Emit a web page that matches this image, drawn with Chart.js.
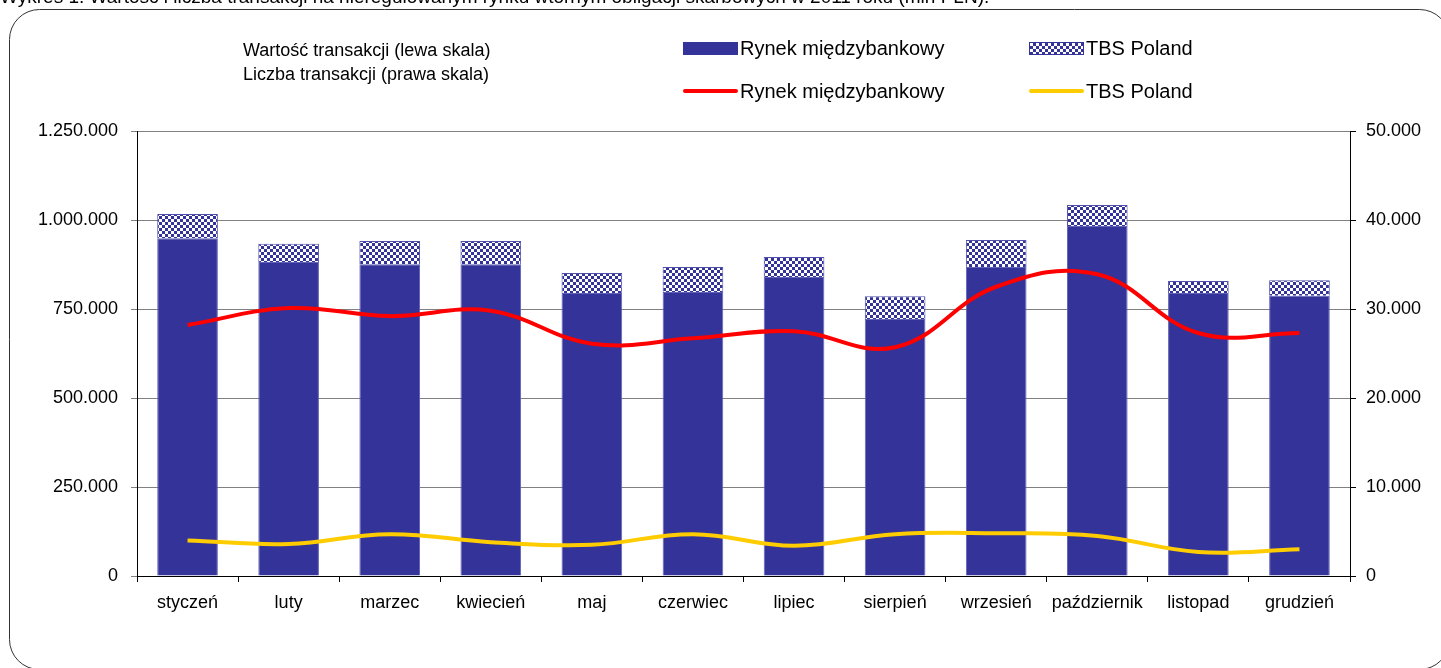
<!DOCTYPE html>
<html><head><meta charset="utf-8">
<script src="https://cdn.jsdelivr.net/npm/chart.js@4"></script>
<style>
html,body{margin:0;padding:0;background:#fff;overflow:hidden;}
#wrap{position:relative;width:1441px;height:668px;font-family:"Liberation Sans",Arial,sans-serif;}
#c{position:absolute;left:0;top:0;}
.t{position:absolute;font-size:18px;line-height:18px;color:#000;white-space:nowrap;}
.l{position:absolute;font-size:20px;line-height:20px;color:#000;white-space:nowrap;}
.sw{position:absolute;}
</style></head>
<body>
<div id="wrap">
<canvas id="c" width="1441" height="668"></canvas>
<div class="t" style="left:0px;top:-12px;font-size:19px;">Wykres 1. Wartość i liczba transakcji na nieregulowanym rynku wtórnym obligacji skarbowych w 2011 roku (mln PLN).</div>
<div class="t" style="left:243px;top:41px;">Wartość transakcji (lewa skala)</div>
<div class="t" style="left:243px;top:65px;">Liczba transakcji (prawa skala)</div>
<div class="sw" style="left:683px;top:42px;width:55px;height:13px;background:#333399;"></div>
<div class="l" style="left:740px;top:38px;">Rynek międzybankowy</div>
<div class="sw" style="left:1029px;top:42px;width:53px;height:11px;border:1px solid #333399;background:repeating-conic-gradient(#333399 0 25%, #ffffff 0 50%) 0 0/6px 6px;"></div>
<div class="l" style="left:1086px;top:38px;">TBS Poland</div>
<div class="sw" style="left:683px;top:89px;width:55px;height:4px;border-radius:2px;background:#ff0000;"></div>
<div class="l" style="left:740px;top:81px;">Rynek międzybankowy</div>
<div class="sw" style="left:1029px;top:89px;width:55px;height:4px;border-radius:2px;background:#ffcc00;"></div>
<div class="l" style="left:1086px;top:81px;">TBS Poland</div>
</div>
<script>
const months = ["styczeń","luty","marzec","kwiecień","maj","czerwiec","lipiec","sierpień","wrzesień","październik","listopad","grudzień"];
const valueInterbank = [949000, 882000, 876000, 876000, 795000, 798000, 840000, 722000, 868000, 983000, 795000, 787000];
const valueTBS = [68000, 51000, 65000, 65000, 56000, 70000, 56000, 64000, 76000, 59000, 34000, 44000];
const countInterbank = [28200, 30100, 29200, 29800, 26100, 26700, 27500, 25700, 32500, 33900, 27300, 27300];
const countTBS = [4000, 3600, 4700, 3800, 3500, 4700, 3400, 4700, 4800, 4500, 2700, 3000];
const leftTicks = [0, 250000, 500000, 750000, 1000000, 1250000];
const rightTicks = [0, 10000, 20000, 30000, 40000, 50000];
const seriesNames = ["Rynek międzybankowy", "TBS Poland"];

function fmt(v){ return String(Math.round(v)).replace(/\B(?=(\d{3})+(?!\d))/g, "."); }

function checker(){
  const p = document.createElement('canvas'); p.width = 6; p.height = 6;
  const g = p.getContext('2d');
  g.fillStyle = '#333399'; g.fillRect(0,0,6,6);
  g.fillStyle = '#ffffff'; g.fillRect(0,0,3,3); g.fillRect(3,3,3,3);
  return g.createPattern(p, 'repeat');
}

const frame = {
  id: 'frame',
  beforeDraw(chart){
    const ctx = chart.ctx;
    ctx.save();
    ctx.strokeStyle = '#333'; ctx.lineWidth = 1;
    ctx.beginPath();
    ctx.roundRect(9.5, 9.5, 1440, 660, 30);
    ctx.stroke();
    ctx.restore();
  }
};

Chart.defaults.font.family = '"Liberation Sans", Arial, sans-serif';
Chart.defaults.font.size = 18;
Chart.defaults.color = '#000';

new Chart(document.getElementById('c'), {
  data: {
    labels: months,
    datasets: [
      { type:'line', label: seriesNames[0], data: countInterbank, yAxisID:'y1', borderColor:'#ff0000', borderWidth:4, pointRadius:0, tension:0.4, order:0 },
      { type:'line', label: seriesNames[1], data: countTBS, yAxisID:'y1', borderColor:'#ffcc00', borderWidth:4, pointRadius:0, tension:0.4, order:0 },
      { type:'bar', label: seriesNames[0], data: valueInterbank, yAxisID:'y', stack:'v', backgroundColor:'#333399', borderColor:'#6262b8', borderWidth:1, borderSkipped:'bottom', barPercentage:0.6, categoryPercentage:1, order:1 },
      { type:'bar', label: seriesNames[1], data: valueTBS, yAxisID:'y', stack:'v', backgroundColor:checker(), borderColor:'#5050aa', borderWidth:1, borderSkipped:'bottom', barPercentage:0.6, categoryPercentage:1, order:1 }
    ]
  },
  options: {
    responsive:false, animation:false, devicePixelRatio:1,
    layout:{ padding:{ top:131, left:0, right:0, bottom:0 } },
    plugins:{ legend:{display:false}, title:{display:false}, tooltip:{enabled:false} },
    scales:{
      x:{
        offset:true, stacked:true,
        grid:{ offset:true, drawOnChartArea:false, drawTicks:true, tickLength:6, color:'#000' },
        border:{ color:'#000', width:1 },
        ticks:{ padding:10, font:{size:18}, color:'#000', maxRotation:0 },
        afterFit(s){ s.height = 92; }
      },
      y:{
        position:'left', stacked:true, min:0, max:1250000,
        afterBuildTicks(s){ s.ticks = leftTicks.map(v=>({value:v})); },
        ticks:{ padding:13, callback:(v)=>fmt(v), font:{size:18}, color:'#000' },
        grid:{ color:'#808080', lineWidth:1, tickLength:6, drawTicks:true },
        border:{ color:'#000', width:1 },
        afterFit(s){ s.width = 137; }
      },
      y1:{
        position:'right', min:0, max:50000,
        afterBuildTicks(s){ s.ticks = rightTicks.map(v=>({value:v})); },
        ticks:{ padding:10, callback:(v)=>fmt(v), font:{size:18}, color:'#000' },
        grid:{ drawOnChartArea:false, tickLength:6, color:'#000' },
        border:{ color:'#000', width:1 },
        afterFit(s){ s.width = 91; }
      }
    }
  },
  plugins:[frame]
});
</script>
</body></html>
